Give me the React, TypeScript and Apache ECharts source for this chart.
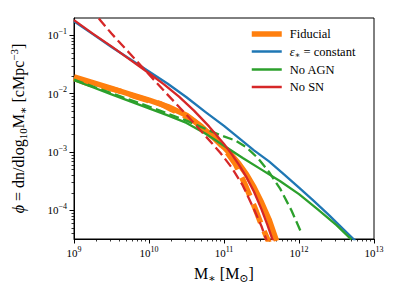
import React, { useEffect, useRef } from 'react';
import * as echarts from 'echarts';

// Axis extents (log10 units)
const X_MIN = 9;
const X_MAX = 13;
const Y_MIN = Math.log10(3.25e-5);
const Y_MAX = Math.log10(0.198);

// Major tick positions (log10 values) — labels are 10^n
const xMajor = [9, 10, 11, 12, 13];
const yMajor = [-4, -3, -2, -1];

// Series data: log10 M* [Msun] and log10 phi [cMpc^-3]
const fiducialLogM = [9.0, 9.25, 9.5, 9.75, 10.0, 10.25, 10.5, 10.7, 10.86, 11.0, 11.1, 11.2, 11.3, 11.4, 11.5, 11.6, 11.7];
const fiducialLogPhi = [-1.71, -1.81, -1.91, -2.01, -2.11, -2.22, -2.37, -2.56, -2.75, -2.92, -3.05, -3.2, -3.38, -3.6, -3.86, -4.15, -4.52];

const fiducialDashLogM = [9.0, 9.15, 9.3, 9.45, 9.6, 9.8, 10.0, 10.15, 10.3, 10.45, 10.6, 10.8, 11.0, 11.15, 11.28, 11.41, 11.5, 11.6];
const fiducialDashLogPhi = [-1.74, -1.81, -1.87, -1.9, -1.95, -2.04, -2.12, -2.17, -2.27, -2.36, -2.47, -2.67, -2.93, -3.2, -3.55, -3.95, -4.25, -4.55];

const epsConstLogM = [9.0, 9.25, 9.5, 9.75, 10.0, 10.25, 10.5, 10.75, 11.0, 11.2, 11.4, 11.6, 11.8, 12.0, 12.2, 12.4, 12.6, 12.75];
const epsConstLogPhi = [-0.76, -0.98, -1.2, -1.41, -1.62, -1.83, -2.06, -2.31, -2.55, -2.76, -2.97, -3.16, -3.38, -3.61, -3.84, -4.08, -4.33, -4.52];

const noAgnLogM = [9.0, 9.25, 9.5, 9.75, 10.0, 10.25, 10.5, 10.75, 11.0, 11.25, 11.5, 11.75, 12.0, 12.25, 12.5, 12.7];
const noAgnLogPhi = [-1.77, -1.89, -2.01, -2.13, -2.25, -2.37, -2.5, -2.68, -2.89, -3.1, -3.3, -3.5, -3.72, -3.98, -4.25, -4.5];

const noAgnDashLogM = [9.0, 9.5, 10.0, 10.5, 10.75, 10.95, 11.15, 11.3, 11.45, 11.6, 11.75, 11.9, 12.02];
const noAgnDashLogPhi = [-1.76, -1.99, -2.22, -2.46, -2.6, -2.71, -2.8, -2.92, -3.1, -3.34, -3.63, -4.0, -4.35];

const noSnLogM = [9.0, 9.25, 9.5, 9.75, 10.0, 10.2, 10.4, 10.6, 10.8, 11.0, 11.1, 11.2, 11.3, 11.4, 11.5, 11.58, 11.66];
const noSnLogPhi = [-0.74, -0.97, -1.19, -1.42, -1.65, -1.84, -2.05, -2.29, -2.56, -2.86, -3.03, -3.22, -3.43, -3.68, -3.98, -4.25, -4.55];

const noSnDashLogM = [9.2, 9.35, 9.5, 9.75, 10.0, 10.25, 10.5, 10.75, 10.95, 11.1, 11.25, 11.4, 11.5, 11.57];
const noSnDashLogPhi = [-0.53, -0.74, -0.97, -1.32, -1.67, -2.02, -2.36, -2.72, -3.01, -3.26, -3.57, -3.98, -4.27, -4.52];

const legendNames = ['Fiducial', 'ε* = constant', 'No AGN', 'No SN'];
const legendWidths = [5.5, 2.5, 2.5, 2.5];

const COLORS = {
  orange: '#ff7f0e',
  blue: '#1f77b4',
  green: '#2ca02c',
  red: '#d62728',
};

const FONT = 'Liberation Serif, DejaVu Serif, serif';

function pairs(xs: number[], ys: number[]) {
  return xs.map((x, i) => [x, ys[i]]);
}

function minorTicks(lo: number, hi: number) {
  const out: number[] = [];
  for (let n = Math.floor(lo) - 1; n <= Math.ceil(hi); n++) {
    for (let k = 2; k <= 9; k++) {
      const v = n + Math.log10(k);
      if (v > lo && v < hi) out.push(v);
    }
  }
  return out;
}

const tickRich = {
  b: { fontSize: 11, fontFamily: FONT, color: '#000' },
  s: { fontSize: 8, fontFamily: FONT, color: '#000', padding: [0, 0, 8, 0] },
};

function powLabel(v: number) {
  const e = Math.round(v);
  const es = e < 0 ? '\u2212' + Math.abs(e) : String(e);
  return '{b|10}{s|' + es + '}';
}

const nameRich = {
  n: { fontSize: 16, fontFamily: FONT, color: '#000' },
  i: { fontSize: 16, fontFamily: FONT, fontStyle: 'italic', color: '#000' },
  s: { fontSize: 11, fontFamily: FONT, color: '#000', padding: [8, 0, 0, 0] },
  p: { fontSize: 11, fontFamily: FONT, color: '#000', padding: [0, 0, 10, 0] },
};

function lineSeries(name: string, data: number[][], color: string, width: number, dash?: number[]) {
  return {
    type: 'line',
    name,
    data,
    showSymbol: false,
    symbol: 'none',
    smooth: false,
    clip: true,
    lineStyle: { color, width, type: dash ? dash : 'solid', join: 'round', cap: 'butt' },
    itemStyle: { color },
    emphasis: { disabled: true },
  };
}

export default function App() {
  const ref = useRef<HTMLDivElement>(null);
  useEffect(() => {
    if (!ref.current) return;
    const chart = echarts.init(ref.current, undefined, { renderer: 'svg' });
    const axisCommonX = {
      type: 'value',
      min: X_MIN,
      max: X_MAX,
      gridIndex: 0,
      position: 'bottom',
      splitLine: { show: false },
    };
    const axisCommonY = {
      type: 'value',
      min: Y_MIN,
      max: Y_MAX,
      gridIndex: 0,
      position: 'left',
      splitLine: { show: false },
    };
    chart.setOption({
      animation: false,
      backgroundColor: '#fff',
      grid: {
        left: 74,
        right: 25,
        top: 18,
        bottom: 60,
        show: true,
        borderColor: '#000',
        borderWidth: 1,
        backgroundColor: 'transparent',
      },
      legend: {
        data: legendNames.map((n, i) => ({
          name: n,
          itemStyle: { opacity: 0, borderWidth: 0 },
          lineStyle: { width: legendWidths[i], type: 'solid', cap: 'butt' },
        })),
        orient: 'vertical',
        left: 249,
        top: 27,
        padding: 0,
        itemWidth: 30,
        itemHeight: 14,
        itemGap: 3.5,
        selectedMode: false,
        textStyle: {
          fontFamily: FONT,
          fontSize: 12.5,
          color: '#000',
          lineHeight: 14,
          padding: [0, 0, 0, 3],
          rich: {
            t: { fontFamily: FONT, fontSize: 12.5, color: '#000', lineHeight: 14 },
            e: { fontFamily: FONT, fontSize: 12.5, fontStyle: 'italic', color: '#000', lineHeight: 14 },
            s: { fontFamily: FONT, fontSize: 8.5, color: '#000', padding: [6, 0, 0, 0] },
          },
        },
        formatter: (name: string) =>
          name === 'ε* = constant' ? '{e|ε}{s|∗}{t| = constant}' : '{t|' + name + '}',
      },
      xAxis: [
        {
          ...axisCommonX,
          name: '{n|M}{s|∗}{n| [M}{s|⊙}{n|]}',
          nameLocation: 'middle',
          nameGap: 25,
          nameTextStyle: { fontFamily: FONT, fontSize: 16, color: '#000', rich: nameRich },
          axisLine: { show: true, onZero: false, lineStyle: { color: '#000', width: 1 } },
          axisTick: { show: true, length: 4.5, lineStyle: { color: '#000', width: 1 }, customValues: xMajor },
          axisLabel: {
            show: true,
            margin: 6,
            customValues: xMajor,
            formatter: powLabel,
            rich: tickRich,
            fontFamily: FONT,
            color: '#000',
          },
        },
        {
          ...axisCommonX,
          axisLine: { show: false },
          axisTick: { show: true, length: 2.5, lineStyle: { color: '#000', width: 0.8 }, customValues: minorTicks(X_MIN, X_MAX) },
          axisLabel: { show: false },
        },
      ],
      yAxis: [
        {
          ...axisCommonY,
          name: '{i|ϕ}{n| = dn/dlog}{s|10}{n|M}{s|∗}{n| [cMpc}{p|\u22123}{n|]}',
          nameLocation: 'middle',
          nameGap: 45,
          nameTextStyle: { fontFamily: FONT, fontSize: 16, color: '#000', rich: nameRich },
          axisLine: { show: true, onZero: false, lineStyle: { color: '#000', width: 1 } },
          axisTick: { show: true, length: 4.5, lineStyle: { color: '#000', width: 1 }, customValues: yMajor },
          axisLabel: {
            show: true,
            margin: 7,
            customValues: yMajor,
            formatter: powLabel,
            rich: tickRich,
            fontFamily: FONT,
            color: '#000',
          },
        },
        {
          ...axisCommonY,
          axisLine: { show: false },
          axisTick: { show: true, length: 2.5, lineStyle: { color: '#000', width: 0.8 }, customValues: minorTicks(Y_MIN, Y_MAX) },
          axisLabel: { show: false },
        },
      ],
      series: [
        lineSeries('Fiducial', pairs(fiducialLogM, fiducialLogPhi), COLORS.orange, 5.5),
        lineSeries('Fiducial (dashed)', pairs(fiducialDashLogM, fiducialDashLogPhi), COLORS.orange, 5.5, [20, 9]),
        lineSeries('ε* = constant', pairs(epsConstLogM, epsConstLogPhi), COLORS.blue, 2.3),
        lineSeries('No AGN', pairs(noAgnLogM, noAgnLogPhi), COLORS.green, 2.3),
        lineSeries('No AGN (dashed)', pairs(noAgnDashLogM, noAgnDashLogPhi), COLORS.green, 2.3, [10, 4.5]),
        lineSeries('No SN', pairs(noSnLogM, noSnLogPhi), COLORS.red, 2.3),
        lineSeries('No SN (dashed)', pairs(noSnDashLogM, noSnDashLogPhi), COLORS.red, 2.3, [10, 4.5]),
      ],
    });
    return () => chart.dispose();
  }, []);
  return (
    <div
      ref={ref}
      style={{ position: 'fixed', left: 0, top: 0, width: 399, height: 299, background: '#fff' }}
    />
  );
}
